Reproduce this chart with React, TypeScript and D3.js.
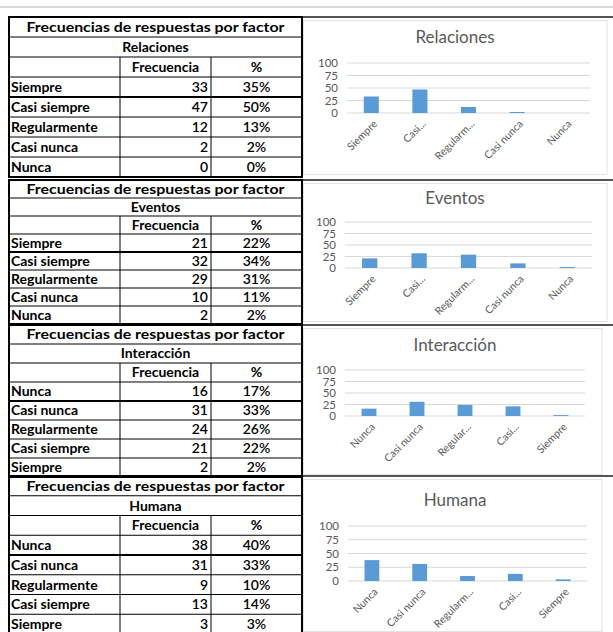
import React from "react";
import * as d3 from "d3";

const TABLE_TITLE = "Frecuencias de respuestas por factor";
const HEADER_FREQ = "Frecuencia";
const HEADER_PCT = "%";
const Y_TICKS = [0, 25, 50, 75, 100];

const relacionesCats = ["Siempre", "Casi siempre", "Regularmente", "Casi nunca", "Nunca"];
const relacionesFreq = [33, 47, 12, 2, 0];
const relacionesPct = ["35%", "50%", "13%", "2%", "0%"];
const relacionesLabels = ["Siempre", "Casi...", "Regularm...", "Casi nunca", "Nunca"];

const eventosCats = ["Siempre", "Casi siempre", "Regularmente", "Casi nunca", "Nunca"];
const eventosFreq = [21, 32, 29, 10, 2];
const eventosPct = ["22%", "34%", "31%", "11%", "2%"];
const eventosLabels = ["Siempre", "Casi...", "Regularm...", "Casi nunca", "Nunca"];

const interaccionCats = ["Nunca", "Casi nunca", "Regularmente", "Casi siempre", "Siempre"];
const interaccionFreq = [16, 31, 24, 21, 2];
const interaccionPct = ["17%", "33%", "26%", "22%", "2%"];
const interaccionLabels = ["Nunca", "Casi nunca", "Regular...", "Casi...", "Siempre"];

const humanaCats = ["Nunca", "Casi nunca", "Regularmente", "Casi siempre", "Siempre"];
const humanaFreq = [38, 31, 9, 13, 3];
const humanaPct = ["40%", "33%", "10%", "14%", "3%"];
const humanaLabels = ["Nunca", "Casi nunca", "Regularm...", "Casi...", "Siempre"];

const panels = [
  { name: "Relaciones", cats: relacionesCats, freq: relacionesFreq, pct: relacionesPct, labels: relacionesLabels },
  { name: "Eventos", cats: eventosCats, freq: eventosFreq, pct: eventosPct, labels: eventosLabels },
  { name: "Interacción", cats: interaccionCats, freq: interaccionFreq, pct: interaccionPct, labels: interaccionLabels },
  { name: "Humana", cats: humanaCats, freq: humanaFreq, pct: humanaPct, labels: humanaLabels },
];

// layout (positions only)
const LAYOUT = [
  { top: 17, bottom: 177, titleY: 37, y100: 63, y0: 113, x0: 347, x1: 590, boxRight: 607 },
  { top: 180, bottom: 324, titleY: 198, y100: 222, y0: 268, x0: 345, x1: 592, boxRight: 607 },
  { top: 325, bottom: 477, titleY: 345, y100: 370, y0: 416, x0: 345, x1: 585, boxRight: 602 },
  { top: 476, bottom: 634, titleY: 500, y100: 526, y0: 581, x0: 348, x1: 587, boxRight: 602 },
];

const COLX = [9, 120, 211, 302];
const TFONT = "Lato, 'Open Sans', sans-serif";
const BAR = "#5B9BD5";
const GRAY = "#595959";

function Panel({ p, L }: { p: any; L: any }) {
  const rows = d3.range(9).map((i) => L.top + ((L.bottom - L.top) * i) / 8);
  const rh = rows[1] - rows[0];
  const x = d3
    .scaleBand<string>()
    .domain(p.labels)
    .range([L.x0, L.x1])
    .paddingInner(0.69)
    .paddingOuter(0.345);
  const y = d3.scaleLinear().domain([0, 100]).range([L.y0, L.y100]);
  const fs = 14;
  return (
    <g>
      {/* chart box */}
      <rect x={303.5} y={L.top + 3.5} width={L.boxRight - 303.5} height={L.bottom - L.top - 6} fill="#fff" stroke="#e3e3e3" strokeWidth={1} />
      <line x1={302} x2={613} y1={L.top} y2={L.top} stroke="#555" strokeWidth={2} />
      {/* table lines */}
      {rows.slice(1, 8).map((ry, i) => (
        <line key={"h" + i} x1={COLX[0]} x2={COLX[3]} y1={ry} y2={ry} stroke="#000" strokeWidth={i === 3 ? 2 : 1} />
      ))}
      {[1, 2].map((c) => (
        <line key={"v" + c} x1={COLX[c]} x2={COLX[c]} y1={rows[2]} y2={rows[8]} stroke="#000" strokeWidth={1} />
      ))}
      <rect x={COLX[0]} y={L.top} width={COLX[3] - COLX[0]} height={L.bottom - L.top} fill="none" stroke="#000" strokeWidth={2} />
      {/* table text */}
      <g fontFamily={TFONT} fontWeight="bold" fontSize={fs} fill="#000">
        <text x={(COLX[0] + COLX[3]) / 2} y={rows[0] + rh / 2} dy="0.35em" textAnchor="middle" textLength={258} lengthAdjust="spacingAndGlyphs">
          {TABLE_TITLE}
        </text>
        <text x={(COLX[0] + COLX[3]) / 2} y={rows[1] + rh / 2} dy="0.35em" textAnchor="middle">
          {p.name}
        </text>
        <text x={(COLX[1] + COLX[2]) / 2} y={rows[2] + rh / 2} dy="0.35em" textAnchor="middle">
          {HEADER_FREQ}
        </text>
        <text x={(COLX[2] + COLX[3]) / 2} y={rows[2] + rh / 2} dy="0.35em" textAnchor="middle">
          {HEADER_PCT}
        </text>
        {p.cats.map((c: string, i: number) => (
          <g key={c}>
            <text x={COLX[0] + 2} y={rows[3 + i] + rh / 2} dy="0.35em">
              {c}
            </text>
            <text x={COLX[2] - 3} y={rows[3 + i] + rh / 2} dy="0.35em" textAnchor="end" fontWeight={600}>
              {p.freq[i]}
            </text>
            <text x={(COLX[2] + COLX[3]) / 2} y={rows[3 + i] + rh / 2} dy="0.35em" textAnchor="middle" fontWeight={600}>
              {p.pct[i]}
            </text>
          </g>
        ))}
      </g>
      {/* chart */}
      <text x={455} y={L.titleY} dy="0.35em" textAnchor="middle" fontFamily={TFONT} fontSize={17} fill={GRAY}>
        {p.name}
      </text>
      {Y_TICKS.map((t) => (
        <g key={t}>
          <line x1={L.x0} x2={L.x1} y1={y(t)} y2={y(t)} stroke="#d9d9d9" strokeWidth={1} />
          <text x={L.x0 - 9} y={y(t)} dy="0.35em" textAnchor="end" fontFamily={TFONT} fontSize={11.5} fill={GRAY}>
            {t}
          </text>
        </g>
      ))}
      {p.labels.map((lab: string, i: number) => (
        <rect key={"b" + i} x={x(lab)} y={y(p.freq[i])} width={x.bandwidth()} height={L.y0 - y(p.freq[i])} fill={BAR} />
      ))}
      {p.labels.map((lab: string) => {
        const cx = (x(lab) as number) + x.bandwidth() / 2;
        return (
          <text
            key={"l" + lab}
            transform={`translate(${cx + 4},${L.y0 + 9}) rotate(-45)`}
            textAnchor="end"
            dy="0.35em"
            fontFamily={TFONT}
            fontSize={10.5}
            fill={GRAY}
          >
            {lab}
          </text>
        );
      })}
    </g>
  );
}

export default function App() {
  return (
    <svg width={613} height={632} style={{ position: "absolute", left: 0, top: 0, background: "#fff" }}>
      <rect width={613} height={632} fill="#fff" />
      <line x1={0} x2={613} y1={7} y2={7} stroke="#d5d9de" strokeWidth={2} />
      {panels.map((p, i) => (
        <Panel key={p.name} p={p} L={LAYOUT[i]} />
      ))}
    </svg>
  );
}
